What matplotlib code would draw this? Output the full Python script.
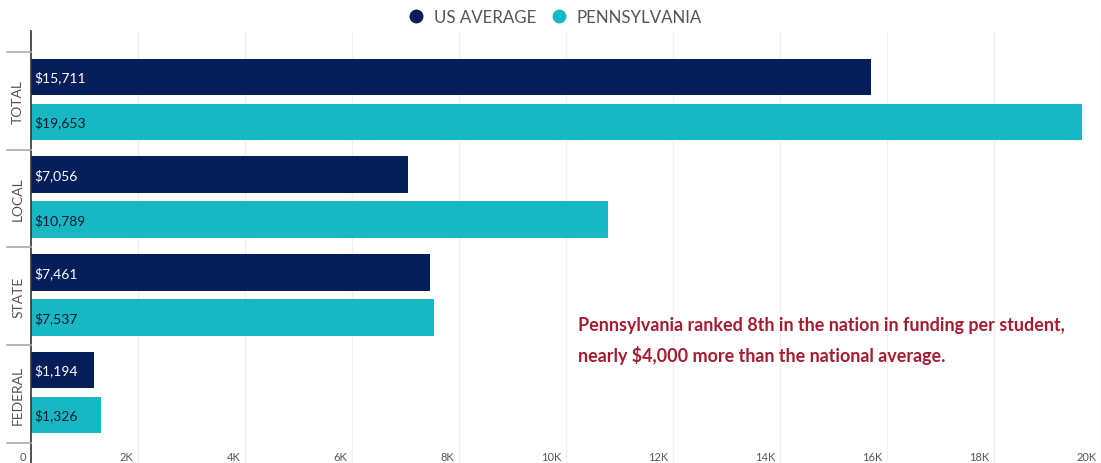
import matplotlib
matplotlib.use("Agg")
import matplotlib.pyplot as plt
from matplotlib.lines import Line2D

plt.rcParams['font.family'] = ['Lato', 'DejaVu Sans']

# Funding per student by source
categories = ["TOTAL", "LOCAL", "STATE", "FEDERAL"]
us_average = [15711, 7056, 7461, 1194]
pennsylvania = [19653, 10789, 7537, 1326]
series_names = ["US AVERAGE", "PENNSYLVANIA"]
x_ticks = [0, 2000, 4000, 6000, 8000, 10000, 12000, 14000, 16000, 18000, 20000]
x_tick_labels = ["0", "2K", "4K", "6K", "8K", "10K", "12K", "14K", "16K", "18K", "20K"]
note = ("Pennsylvania ranked 8th in the nation in funding per student,\n"
        "nearly $4,000 more than the national average.")

NAVY = "#041e5a"
TEAL = "#17b8c4"
GRID = "#f0f0f0"
GRAY = "#555555"
RED = "#a51c30"

W, H = 1101, 464
fig = plt.figure(figsize=(W / 100, H / 100), dpi=100)

# axes placement in pixels
left_px, right_px, top_px, bottom_px = 30.5, 1100.5, 32, 464
ax = fig.add_axes([left_px / W, 1 - bottom_px / H,
                   (right_px - left_px) / W, (bottom_px - top_px) / H])

ax.set_xlim(0, 20000)
ax.set_ylim(3.705, -0.715)

for t in x_ticks[1:]:
    ax.axvline(t, color=GRID, lw=1.0, zorder=0)

bar_h = 0.375
for i, cat in enumerate(categories):
    y_us = i - 0.245
    y_pa = i + 0.215
    ax.barh(y_us, us_average[i], height=bar_h, color=NAVY, zorder=2)
    ax.barh(y_pa, pennsylvania[i], height=bar_h, color=TEAL, zorder=2)
    ax.text(80, y_us, f"${us_average[i]:,}", color="white", fontsize=10,
            va="center", ha="left", zorder=3)
    ax.text(80, y_pa, f"${pennsylvania[i]:,}", color="#0a1a2a", fontsize=10,
            va="center", ha="left", zorder=3)

# category separators and labels on the left
for b in [-0.5, 0.5, 1.5, 2.5, 3.5]:
    ax.plot([-0.0215 * 20000, 0], [b, b], color="#aaaaaa", lw=1.2,
            clip_on=False, zorder=4)
for i, cat in enumerate(categories):
    ax.text(-0.0115 * 20000, i, cat, rotation=90, color=GRAY, fontsize=10,
            ha="center", va="center", clip_on=False)

# x tick labels, right-aligned at each tick
for t, lab in zip(x_ticks, x_tick_labels):
    ax.text(t - 80 if t else -80, 3.64, lab, color=GRAY, fontsize=8,
            ha="right", va="center", clip_on=False)

ax.set_xticks([])
ax.set_yticks([])
for side in ["top", "right", "bottom"]:
    ax.spines[side].set_visible(False)
ax.spines["left"].set_color("#333333")
ax.spines["left"].set_linewidth(1.2)

# legend
handles = [Line2D([], [], marker="o", ls="", color=NAVY, markersize=9),
           Line2D([], [], marker="o", ls="", color=TEAL, markersize=9)]
fig.legend(handles, series_names, loc="center", bbox_to_anchor=(0.5, 1 - 18 / H),
           ncol=2, frameon=False, fontsize=12.2, handletextpad=0.05,
           columnspacing=0.3, labelcolor=GRAY)

ax.text(578 / W, 1 - 341 / H, note, transform=fig.transFigure, color=RED,
        fontsize=12.9, fontweight="bold", ha="left", va="center",
        linespacing=1.7)

fig.savefig("out.png", dpi=100)
